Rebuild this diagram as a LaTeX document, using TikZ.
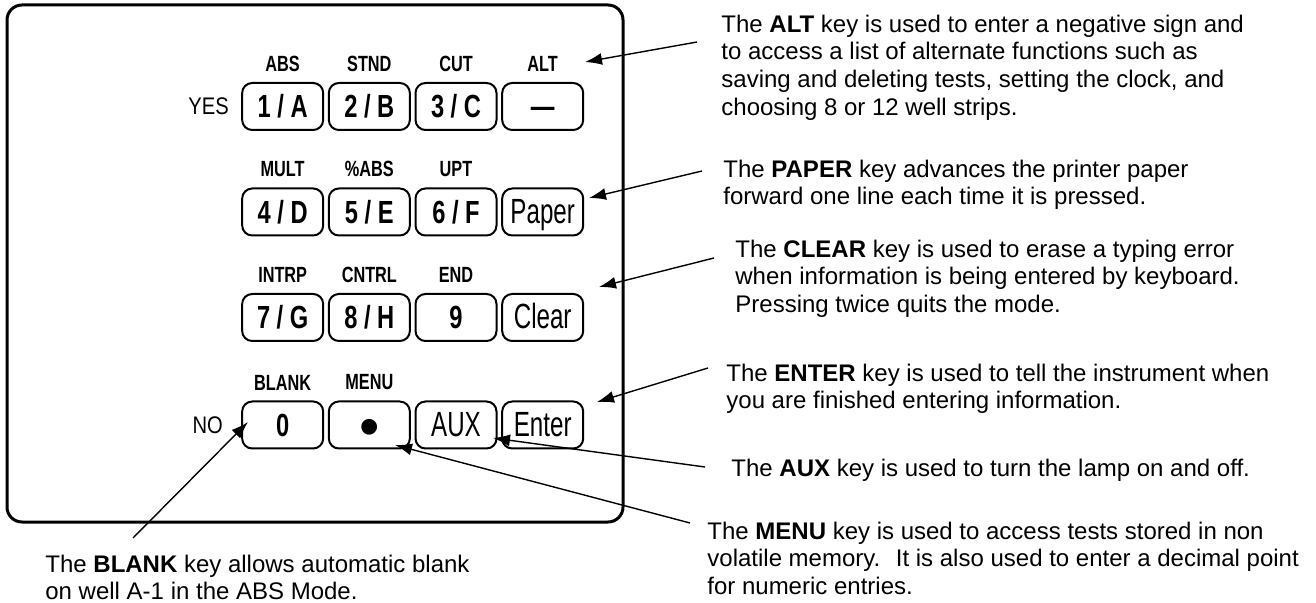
\documentclass[tikz,border=0pt]{standalone}
\usepackage{fontspec}
\setmainfont{Liberation Sans}
\newfontfamily\tastenfont[FakeStretch=0.74]{Liberation Sans}
\newfontfamily\duennfont[FakeStretch=0.69]{Liberation Sans}
\newfontfamily\schmalfont[FakeStretch=0.84]{Liberation Sans}
\newcommand\duenn{\duennfont\mdseries\fontsize{17.5}{17.5}\selectfont}
\newcommand\punkt{\raisebox{-5pt}{\normalfont\fontsize{29}{29}\selectfont •}}
\usetikzlibrary{arrows.meta,positioning,calc}
\tikzset{
  taste/.style={draw,line width=1pt,rounded corners=5pt,minimum width=40.5pt,minimum height=23.5pt,
    inner sep=0pt,text height=11.5pt,text depth=0pt,font=\tastenfont\fontsize{16}{16}\selectfont\bfseries},
  beschr/.style={font=\tastenfont\fontsize{11}{11}\selectfont\bfseries,inner sep=0pt},
  janein/.style={font=\schmalfont\fontsize{12}{12}\selectfont,inner sep=0pt},
  erkl/.style={font=\fontsize{12}{13.8}\selectfont,align=left,inner sep=0pt,anchor=north west},
  pfeil/.style={-{Latex[length=8.5pt,width=6pt]},line width=0.7pt}
}
\begin{document}
\begin{tikzpicture}[x=0.5pt,y=-0.5pt]
%1 Einheit = 1 Pixel der Vorlage (y nach unten)
  \useasboundingbox (0,0) rectangle (1316,603);
  \pgfmathsetmacro{\xnull}{196}
  \pgfmathsetmacro{\dx}{86.67}
%Gehaeuse
\draw[line width=1.5pt,rounded corners=7.5pt] (7,5) rectangle (623,522);
%Tasten Reihe 1 bis 4
\foreach \i/\txt in {1/{1 / A},2/{2 / B},3/{3 / C},4/{—}}{
\node[taste] (r1t\i) at ({\xnull+\dx*\i},106.5) {\txt};
}
\foreach \i/\txt in {1/{4 / D},2/{5 / E},3/{6 / F},4/{\duenn Paper}}{
\node[taste] (r2t\i) at ({\xnull+\dx*\i},212) {\txt};
}
\foreach \i/\txt in {1/{7 / G},2/{8 / H},3/{9},4/{\duenn Clear}}{
\node[taste] (r3t\i) at ({\xnull+\dx*\i},317.5) {\txt};
}
\foreach \i/\txt in {1/{0},2/{\punkt},3/{\duenn AUX},4/{\duenn Enter}}{
\node[taste] (r4t\i) at ({\xnull+\dx*\i},425) {\txt};
}
%Beschriftung ueber den Tasten
\foreach \i/\lab in {1/ABS,2/STND,3/CUT,4/ALT}{
\node[beschr,above=5pt of r1t\i] (r1b\i) {\lab};
}
\foreach \i/\lab in {1/MULT,2/\%ABS,3/UPT}{
\node[beschr,above=5pt of r2t\i] (r2b\i) {\lab};
}
\foreach \i/\lab in {1/INTRP,2/CNTRL,3/END}{
\node[beschr,above=5pt of r3t\i] (r3b\i) {\lab};
}
\foreach \i/\lab in {1/BLANK,2/MENU}{
\node[beschr,above=5pt of r4t\i] (r4b\i) {\lab};
}
\node[janein,left=6pt of r1t1] (ja) {YES};
\node[janein,left=9pt of r4t1] (nein) {NO};
%Erklaerungen
\node[erkl] (alttxt) at (721,14.5) {The \textbf{ALT} key is used to enter a negative sign and\\to access a list of alternate functions such as\\saving and deleting tests, setting the clock, and\\choosing 8 or 12 well strips.};
\node[erkl] (papertxt) at (723,159.5) {The \textbf{PAPER} key advances the printer paper\\forward one line each time it is pressed.};
\node[erkl] (cleartxt) at (735,239.5) {The \textbf{CLEAR} key is used to erase a typing error\\when information is being entered by keyboard.\\Pressing twice quits the mode.};
\node[erkl] (entertxt) at (726,363.5) {The \textbf{ENTER} key is used to tell the instrument when\\you are finished entering information.};
\node[erkl] (auxtxt) at (731,458.5) {The \textbf{AUX} key is used to turn the lamp on and off.};
\node[erkl] (menutxt) at (707,521.5) {The \textbf{MENU} key is used to access tests stored in non\\volatile memory.~ It is also used to enter a decimal point\\for numeric entries.};
\node[erkl] (blanktxt) at (45,554.5) {The \textbf{BLANK} key allows automatic blank\\on well A-1 in the ABS Mode.};
%Pfeile: Fuss beim Text, Spitze an der Taste
\coordinate (altfuss) at (697,42);     \coordinate (altspitze) at (585,62);
\coordinate (paperfuss) at (702,171);  \coordinate (paperspitze) at (589,198);
\coordinate (clearfuss) at (714,258);  \coordinate (clearspitze) at (599,287);
\coordinate (enterfuss) at (708,368);  \coordinate (enterspitze) at (597,402);
\coordinate (auxfuss) at (705,467);    \coordinate (auxspitze) at (493,438);
\coordinate (menufuss) at (690,523);   \coordinate (menuspitze) at (395,445);
\coordinate (blankfuss) at (133,538);  \coordinate (blankspitze) at (248,422);
\foreach \n in {alt,paper,clear,enter,aux,menu,blank}{
\draw[pfeil] (\n fuss) -- (\n spitze);
}
\end{tikzpicture}
\end{document}
